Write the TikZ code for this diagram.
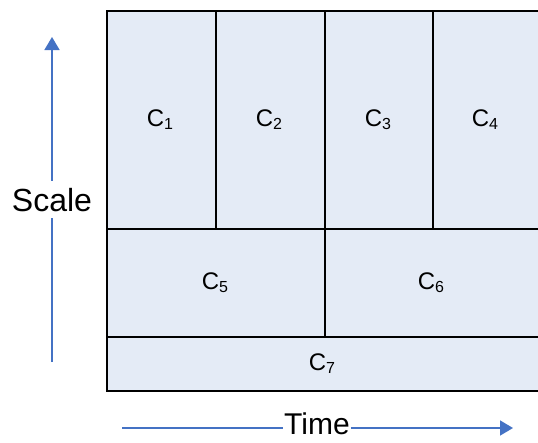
\documentclass[tikz,border=0pt]{standalone}
\usepackage{fontspec}
\setmainfont{Liberation Sans}
\usetikzlibrary{arrows.meta}
\definecolor{cellfill}{RGB}{228,235,246}
\definecolor{arrowblue}{RGB}{68,114,196}
\newcommand{\cl}[1]{{\fontsize{24}{28}\selectfont C\raisebox{-3pt}{\fontsize{16}{18}\selectfont #1}}}
\begin{document}
\begin{tikzpicture}[x=1pt,y=-1pt,
  cell/.style={draw=black,fill=cellfill,line width=2pt,inner sep=0pt,anchor=north west},
  lbl/.style={inner sep=0pt},
  axis/.style={draw=arrowblue,line width=1.6pt},
  axistip/.style={-{Triangle[width=15pt,length=13pt]}},
  axislabel/.style={fill=white,inner sep=1pt,anchor=base,text depth=0pt,font=\fontsize{32}{36}\selectfont}]
\useasboundingbox (0,0) rectangle (538,442);
% cells
\node[cell,minimum width=109pt,minimum height=218pt] (c1) at (106,10) {};
\node[cell,minimum width=109pt,minimum height=218pt] (c2) at (215,10) {};
\node[cell,minimum width=108pt,minimum height=218pt] (c3) at (324,10) {};
\node[cell,minimum width=112pt,minimum height=218pt] (c4) at (432,10) {};
\node[cell,minimum width=218pt,minimum height=108pt] (c5) at (106,228) {};
\node[cell,minimum width=220pt,minimum height=108pt] (c6) at (324,228) {};
\node[cell,minimum width=438pt,minimum height=54pt] (c7) at (106,336) {};
% labels
\node[lbl] (l1) at (160,120) {\cl{1}};
\node[lbl] (l2) at (269,120) {\cl{2}};
\node[lbl] (l3) at (378,120) {\cl{3}};
\node[lbl] (l4) at (485,120) {\cl{4}};
\node[lbl] (l5) at (215,283) {\cl{5}};
\node[lbl] (l6) at (431,283) {\cl{6}};
\node[lbl] (l7) at (322,364) {\cl{7}};
% axes
\coordinate (sb) at (52,362);
\coordinate (st) at (52,37);
\node[axislabel,inner ysep=7pt] (scale) at (52,211) {Scale};
\draw[axis] (sb) -- (scale.south);
\draw[axis,axistip] (scale.north) -- (st);
\coordinate (tl) at (122,428);
\coordinate (tr) at (513,428);
\node[axislabel,font=\fontsize{30}{34}\selectfont] (time) at (317,434) {Time};
\draw[axis] (tl) -- (tl -| time.west);
\draw[axis,axistip] (tl -| time.east) -- (tr);
\end{tikzpicture}
\end{document}
